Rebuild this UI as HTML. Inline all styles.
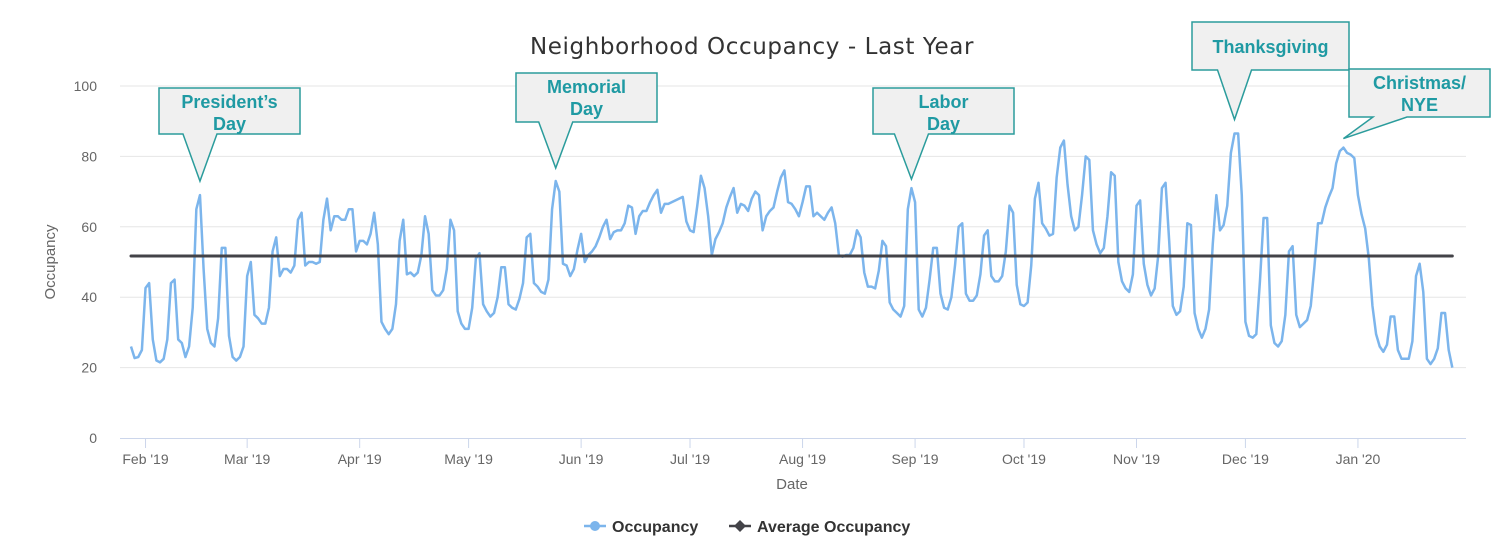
<!DOCTYPE html>
<html><head><meta charset="utf-8"><style>
html,body{margin:0;padding:0;background:#fff;width:1506px;height:558px;overflow:hidden;font-family:"Liberation Sans",sans-serif}
</style></head><body>
<svg id="chart" width="1506" height="558" xmlns="http://www.w3.org/2000/svg" font-family="Liberation Sans, sans-serif">
<text x="752" y="54" text-anchor="middle" font-size="23" letter-spacing="0.6" font-family="DejaVu Sans, sans-serif" fill="#333">Neighborhood Occupancy - Last Year</text>
<g id="grid"></g><g id="xaxis"></g><g id="series"></g><g id="notes"></g>
<text x="792" y="489" text-anchor="middle" font-size="15" fill="#666">Date</text>
<text transform="translate(55,262) rotate(-90)" text-anchor="middle" font-size="15" fill="#666">Occupancy</text>
<g>
<line x1="584" y1="526" x2="606" y2="526" stroke="#7cb5ec" stroke-width="2.5"/><circle cx="595" cy="526" r="5" fill="#7cb5ec"/>
<text x="612" y="532" font-size="16" font-weight="bold" fill="#333">Occupancy</text></g>
<g>
<line x1="729" y1="526" x2="751" y2="526" stroke="#434348" stroke-width="2.5"/><path d="M740 520 L746 526 L740 532 L734 526Z" fill="#434348"/>
<text x="757" y="532" font-size="16" font-weight="bold" fill="#333">Average Occupancy</text></g>
</svg>
<script>
const occupancy=[26,22.7,23,25,42.6,44,28,22,21.5,22.5,28,44,45,28,27,23,26,37,65,69,48,31,27,26,34,54,54,29,23,22,23,26,46,50,35,34,32.5,32.5,37,53,57,46,48,48,47,49,62,64,49,50,50,49.5,50,62,68,59,63,63,62,62,65,65,53,
56,56,55,58,64,55,33,31,29.5,31,38,56,62,46.5,47,46,47,52,63,58,42,40.5,40.5,42,48,62,59,36,32.5,31,31,37,51,52.5,38,36,34.5,35.5,40,48.5,48.5,38,37,36.5,39.5,44,57,58,44,43,41.5,41,45,65,73,70,49.5,49,46,48,53.5,58,50,
52,53,54.5,57,60,62,56.5,58.5,59,59,61,66,65.5,58,63,64.5,64.5,67,69,70.5,64,66.5,66.5,67,67.5,68,68.5,61.5,59,58.5,66,74.5,71,63,52,56.5,58.5,61,65.5,68.5,71,64,66.5,66,64.5,68,70,69,59,63,64.5,65.5,70,74,76,67,66.5,65,63,67,71.5,71.5,63,64,
63,62,64,65.5,61,52,51.5,52,52,54,59,57,47,43,43,42.5,47.5,56,54.5,38.5,36.5,35.5,34.5,37.5,65,71,67,36.5,34.5,37,45,54,54,41,37,36.5,40,49,60,61,41,39,39,40.5,46.5,57.5,59,46,44.5,44.5,46,53,66,64,43.5,38,37.5,38.5,49,68,72.5,61,59.5,57.5,
58,74,82.5,84.5,72,63,59,60,69,80,79,59,55,52.5,54,63,75.5,74.5,50,44.5,42.5,41.5,46.5,66,67.5,49.5,43.5,40.5,42.5,52,71,72.5,56,37.5,35,36,43,61,60.5,35.5,31,28.5,31,36.5,55,69,59,60.5,66,81,86.5,86.5,69,33,29,28.5,29.5,44.5,62.5,62.5,
32,27,26,27.5,35,53,54.5,35,31.5,32.5,33.5,37.5,48.5,61,61,65.5,68.5,71,78,81.5,82.5,81,80.5,79.5,69,63.5,59.5,51,37.5,29.5,26,24.5,26.5,34.5,34.5,25,22.5,22.5,22.5,27.5,46,49.5,41.5,22.5,21,22.5,25.5,35.5,35.5,25,20];
const averageOccupancy=[51.7];
const yTicks=[0,20,40,60,80,100];
const monthLabels=["Feb '19","Mar '19","Apr '19","May '19","Jun '19","Jul '19","Aug '19","Sep '19","Oct '19","Nov '19","Dec '19","Jan '20"];
const monthDays=[4,32,63,93,124,154,185,216,246,277,307,338];
const noteLabels=[["President’s","Day"],["Memorial","Day"],["Labor","Day"],["Thanksgiving"],["Christmas/","NYE"]];
const noteDays=[19,117,215,304,334];

const NS="http://www.w3.org/2000/svg";
const xS=d=>131+3.63*d, yS=v=>438-3.52*v;
function mk(p,t,a){const e=document.createElementNS(NS,t);for(const k in a)e.setAttribute(k,a[k]);p.appendChild(e);return e;}
const grid=document.getElementById('grid'),xa=document.getElementById('xaxis'),se=document.getElementById('series'),no=document.getElementById('notes');
yTicks.forEach(v=>{
 if(v>0){const l=mk(grid,'line',{x1:120,x2:1466,y1:yS(v),y2:yS(v),stroke:'#e6e6e6','stroke-width':1});
 
 }
 const t=mk(grid,'text',{x:97,y:yS(v)+5,'text-anchor':'end','font-size':14,fill:'#666'});t.textContent=v;
 
 
});
const ax=mk(xa,'line',{x1:120,x2:1466,y1:438.5,y2:438.5,stroke:'#ccd6eb','stroke-width':1});


monthDays.forEach((d,i)=>{
 mk(xa,'line',{x1:xS(d),x2:xS(d),y1:438,y2:448,stroke:'#ccd6eb'});
 const t=mk(xa,'text',{x:xS(d),y:464,'text-anchor':'middle','font-size':14,fill:'#666'});t.textContent=monthLabels[i];
 
 
});
const pl=mk(se,'polyline',{points:occupancy.map((v,i)=>xS(i)+','+yS(v)).join(' '),fill:'none',stroke:'#7cb5ec','stroke-width':2.5,'stroke-linejoin':'round'});


const al=mk(se,'line',{x1:xS(0),x2:xS(occupancy.length-1),y1:yS(averageOccupancy[0]),y2:yS(averageOccupancy[0]),stroke:'#434348','stroke-width':3,'stroke-linecap':'round'});


const boxes=[[159,88,134],[516,73,122],[873,88,134],[1192,22,70],[1349,69,117]];
const tipGap=[14,13,9,14,9];
noteDays.forEach((d,i)=>{
 const tx=xS(d),ty=yS(occupancy[d])-tipGap[i];
 const [l,t,b]=boxes[i];const r=l+(i==3?157:141);
 let path;
 if(i<4){path=`M${l} ${t}H${r}V${b}H${tx+17}L${tx} ${ty}L${tx-17} ${b}H${l}Z`;}
 else{path=`M${l} ${t}H${r}V${b}H${l+58}L${tx} ${ty}L${l+24} ${b}H${l}Z`;}
 const g=mk(no,'g',{});
 
 
 mk(g,'path',{d:path,fill:'#f0f0f0',stroke:'#2b9c9c','stroke-width':1.5});
 const cx=(l+r)/2, lines=noteLabels[i];
 lines.forEach((s,k)=>{const tt=mk(g,'text',{x:cx,y:(lines.length==1?t+31:t+20+k*22),'text-anchor':'middle','font-size':18,'font-weight':'bold',fill:'#1f9aa3'});tt.textContent=s;});
});
</script>
</body></html>
